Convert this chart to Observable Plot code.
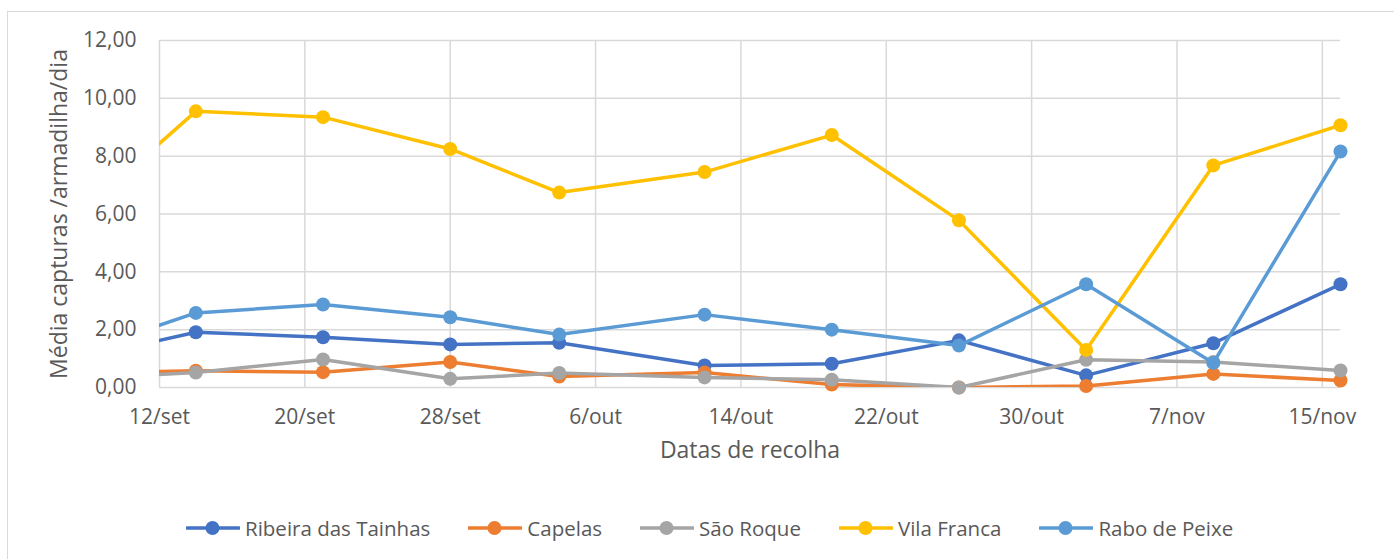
<!DOCTYPE html>
<html>
<head>
<meta charset="utf-8">
<script src="https://cdn.jsdelivr.net/npm/d3@7"></script>
<script src="https://cdn.jsdelivr.net/npm/@observablehq/plot@0.6"></script>
<style>
  html, body { margin: 0; padding: 0; background: #fff; overflow: hidden; }
  #wrap { position: relative; width: 1394px; height: 559px; overflow: hidden; background: #fff; }
  #frame { position: absolute; left: 7px; top: 11px; width: 1420px; height: 600px; border: 1px solid #d9d9d9; box-sizing: border-box; }
  #chart { position: absolute; left: 0; top: 0; }
  #legend { position: absolute; left: 186px; top: 513px; height: 30px; display: flex; align-items: center; gap: 38px;
            font-family: "Open Sans", sans-serif; font-size: 20.5px; color: #595959; white-space: nowrap; }
  .item { display: flex; align-items: center; gap: 5px; }
  .item svg { display: block; }
</style>
</head>
<body>
<div id="wrap">
  <div id="frame"></div>
  <div id="chart"></div>
  <div id="legend"></div>
</div>
<script>
// ---- data ----
const seriesNames = ["Ribeira das Tainhas", "Capelas", "São Roque", "Vila Franca", "Rabo de Peixe"];
const seriesColors = ["#4472C4", "#ED7D31", "#A5A5A5", "#FFC000", "#5B9BD5"];
const dates = ["2019-09-07", "2019-09-14", "2019-09-21", "2019-09-28", "2019-10-04", "2019-10-12",
               "2019-10-19", "2019-10-26", "2019-11-02", "2019-11-09", "2019-11-16"];
const ribeira    = [0.93, 1.91, 1.74, 1.49, 1.55, 0.76, 0.82, 1.63, 0.42, 1.53, 3.57];
const capelas    = [0.48, 0.58, 0.53, 0.88, 0.38, 0.52, 0.10, 0.00, 0.05, 0.47, 0.24];
const saoRoque   = [0.28, 0.52, 0.97, 0.30, 0.50, 0.35, 0.27, 0.00, 0.96, 0.88, 0.59];
const vilaFranca = [5.67, 9.55, 9.35, 8.25, 6.74, 7.45, 8.73, 5.78, 1.30, 7.68, 9.07];
const raboPeixe  = [1.08, 2.58, 2.87, 2.43, 1.83, 2.52, 2.00, 1.45, 3.57, 0.85, 8.16];
const xTickDates  = ["2019-09-12", "2019-09-20", "2019-09-28", "2019-10-06", "2019-10-14",
                     "2019-10-22", "2019-10-30", "2019-11-07", "2019-11-15"];
const xTickLabels = ["12/set", "20/set", "28/set", "6/out", "14/out", "22/out", "30/out", "7/nov", "15/nov"];
const yTicks = [0, 2, 4, 6, 8, 10, 12];
const xDomain = ["2019-09-12", "2019-11-16"];
const xTitle = "Datas de recolha";
const yTitle = "Média capturas /armadilha/dia";

// ---- build ----
const allValues = [ribeira, capelas, saoRoque, vilaFranca, raboPeixe];
const parse = s => new Date(s + "T00:00:00Z");
const domain = xDomain.map(parse);
const rows = [];
seriesNames.forEach((name, si) => {
  dates.forEach((d, i) => rows.push({series: name, date: parse(d), value: allValues[si][i]}));
});
const ticks = xTickDates.map(parse);
const labelOf = new Map(ticks.map((t, i) => [t.getTime(), xTickLabels[i]]));
const fmtY = d => d.toFixed(2).replace(".", ",");
const grid = "#d9d9d9";

const seriesMarks = [];
seriesNames.forEach((name, si) => {
  const data = rows.filter(r => r.series === name);
  seriesMarks.push(Plot.line(data, {x: "date", y: "value", stroke: seriesColors[si], strokeWidth: 3.5, clip: true}));
  seriesMarks.push(Plot.dot(data.filter(r => r.date >= domain[0] && r.date <= domain[1]),
    {x: "date", y: "value", r: 7, fill: seriesColors[si], stroke: "none"}));
});

const chart = Plot.plot({
  width: 1394, height: 480,
  marginLeft: 159, marginRight: 54, marginTop: 40, marginBottom: 93,
  style: {fontFamily: "'Open Sans', sans-serif", fontSize: "21px", color: "#595959", background: "transparent", overflow: "visible"},
  x: {type: "utc", domain},
  y: {domain: [0, 12]},
  marks: [
    Plot.gridX(ticks, {stroke: grid, strokeOpacity: 1, strokeWidth: 1.5}),
    Plot.gridY(yTicks, {stroke: grid, strokeOpacity: 1, strokeWidth: 1.5}),
    Plot.axisX(ticks, {tickSize: 0, tickPadding: 22, tickFormat: d => labelOf.get(d.getTime()), label: null, fill: "#595959", fontSize: 21}),
    Plot.axisY(yTicks, {tickSize: 0, tickPadding: 23, tickFormat: fmtY, label: null, fill: "#595959", fontSize: 21}),
    ...seriesMarks,
    Plot.text([xTitle], {frameAnchor: "bottom", dy: 70, text: d => d, textAnchor: "middle", fontSize: 23, fill: "#595959"}),
    Plot.text([yTitle], {frameAnchor: "left", dx: -100, rotate: -90, text: d => d, textAnchor: "middle", fontSize: 23, fill: "#595959"})
  ]
});
document.getElementById("chart").appendChild(chart);

// ---- legend ----
const legend = document.getElementById("legend");
seriesNames.forEach((name, si) => {
  const item = document.createElement("div");
  item.className = "item";
  item.innerHTML = `<svg width="54" height="16"><line x1="1" y1="8" x2="53" y2="8" stroke="${seriesColors[si]}" stroke-width="3.5" stroke-linecap="round"/><circle cx="26.5" cy="8" r="7" fill="${seriesColors[si]}"/></svg><span>${name}</span>`;
  legend.appendChild(item);
});
</script>
</body>
</html>
